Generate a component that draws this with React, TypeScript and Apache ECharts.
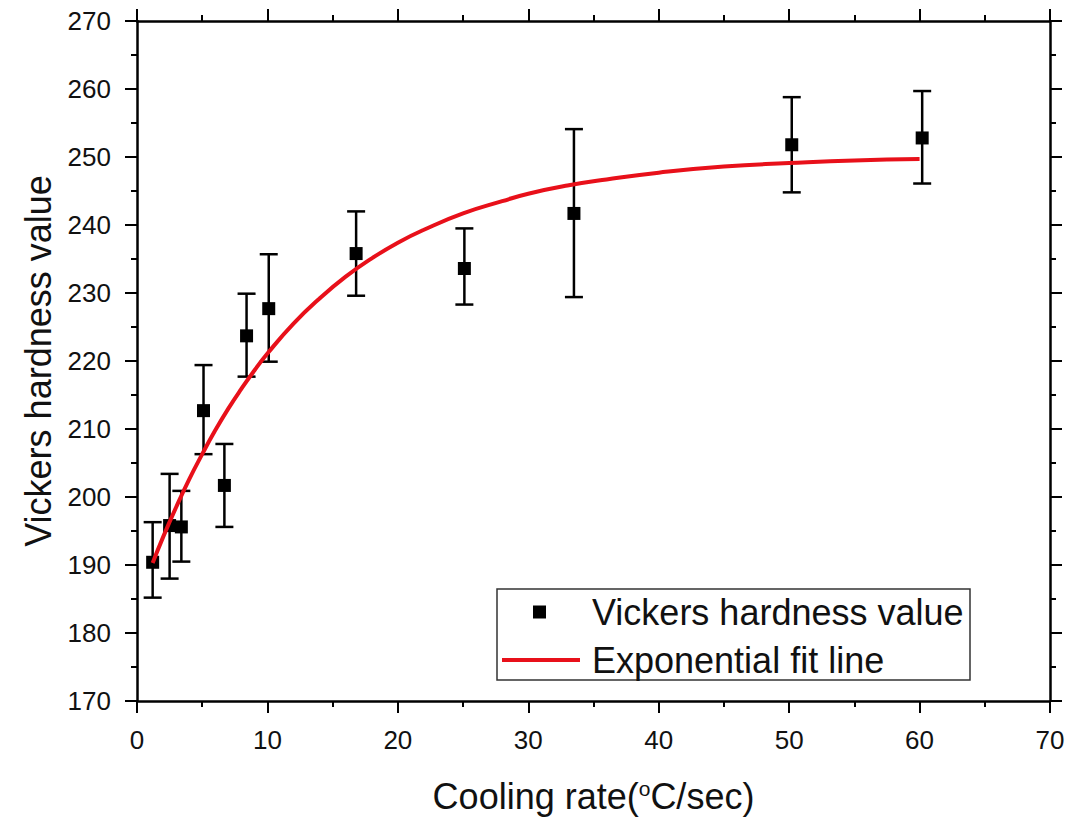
import React, { useEffect, useRef } from "react";
import * as echarts from "echarts";

// Measured data (cooling rate °C/sec, Vickers hardness)
const coolingRate = [1.2, 2.5, 3.4, 5.1, 6.7, 8.4, 10.1, 16.8, 25.1, 33.5, 50.2, 60.2];
const hardness = [190.4, 195.8, 195.6, 212.7, 201.7, 223.7, 227.7, 235.8, 233.6, 241.7, 251.8, 252.8];
const errUpper = [196.3, 203.4, 200.9, 219.4, 207.8, 229.9, 235.7, 242.0, 239.5, 254.1, 258.8, 259.7];
const errLower = [185.2, 188.0, 190.5, 206.3, 195.6, 217.7, 219.9, 229.6, 228.3, 229.4, 244.8, 246.1];

// Exponential fit line
const fitX = [1.2, 2, 3, 4, 5, 6, 7, 8, 9, 10, 12, 14, 16, 18, 20, 22, 25, 28, 30, 33, 36, 40, 45, 50, 55, 60];
const fitY = [190.3, 194.1, 198.5, 202.6, 206.3, 209.8, 213.0, 215.9, 218.6, 221.1, 225.5, 229.2, 232.4, 235.1, 237.4, 239.3, 241.7, 243.5, 244.6, 245.8, 246.7, 247.7, 248.6, 249.1, 249.5, 249.7];

const FONT = "'Liberation Sans', Arial, sans-serif";
const RED = "#e8101a";

export default function App() {
  const ref = useRef<HTMLDivElement>(null);
  useEffect(() => {
    if (!ref.current) return;
    const chart = echarts.init(ref.current, null, { renderer: "svg" });

    const axisCommon = {
      axisLine: { show: true, onZero: false, lineStyle: { color: "#000", width: 2.5 } },
      axisTick: { show: true, inside: false, length: 12, lineStyle: { color: "#000", width: 2 } },
      minorTick: { show: true, splitNumber: 2, length: 6, lineStyle: { color: "#000", width: 2 } },
      splitLine: { show: false },
      minorSplitLine: { show: false },
    };
    const labelStyle = { color: "#111", fontSize: 26, fontFamily: FONT, margin: 26 };

    const scatterData = coolingRate.map((x, i) => [x, hardness[i]]);
    const errData = coolingRate.map((x, i) => [x, errLower[i], errUpper[i]]);
    const fitData = fitX.map((x, i) => [x, fitY[i]]);

    chart.setOption({
      animation: false,
      backgroundColor: "#fff",
      grid: { left: 137, right: 23, top: 21, bottom: 116, containLabel: false },
      xAxis: [
        {
          ...axisCommon,
          type: "value",
          position: "bottom",
          min: 0,
          max: 70,
          interval: 10,
          axisLabel: { ...labelStyle },
          name: "Cooling rate({sup|o}C/sec)",
          nameLocation: "middle",
          nameGap: 77,
          nameTextStyle: {
            color: "#111",
            fontSize: 36,
            fontFamily: FONT,
            rich: {
              sup: { fontSize: 21, fontFamily: FONT, color: "#111", verticalAlign: "top", padding: [0, 0, 14, 0] },
            },
          },
        },
        {
          ...axisCommon,
          type: "value",
          position: "top",
          min: 0,
          max: 70,
          interval: 10,
          axisLabel: { show: false },
        },
      ],
      yAxis: [
        {
          ...axisCommon,
          type: "value",
          position: "left",
          min: 170,
          max: 270,
          interval: 10,
          axisLabel: { ...labelStyle },
          name: "Vickers hardness value",
          nameLocation: "middle",
          nameGap: 80,
          nameTextStyle: { color: "#111", fontSize: 36, fontFamily: FONT },
        },
        {
          ...axisCommon,
          type: "value",
          position: "right",
          min: 170,
          max: 270,
          interval: 10,
          axisLabel: { show: false },
        },
      ],
      legend: [
        {
          data: ["Vickers hardness value"],
          left: 533,
          top: 592,
          padding: 0,
          itemWidth: 13,
          itemHeight: 13,
          icon: "rect",
          itemStyle: { color: "#000", opacity: 1 },
          textStyle: { fontSize: 36, fontFamily: FONT, color: "#111", lineHeight: 40, padding: [0, 0, 0, 41] },
        },
        {
          data: ["Exponential fit line"],
          left: 502,
          top: 640,
          padding: 0,
          itemWidth: 78,
          itemHeight: 4,
          icon: "rect",
          itemStyle: { color: RED },
          textStyle: { fontSize: 36, fontFamily: FONT, color: "#111", lineHeight: 40, padding: [0, 0, 0, 7] },
        },
      ],
      graphic: [
        {
          type: "rect",
          shape: { x: 497, y: 589, width: 473, height: 91 },
          style: { fill: "none", stroke: "#333", lineWidth: 1.5 },
          z: 1,
        },
      ],
      series: [
        {
          name: "error",
          type: "custom",
          xAxisIndex: 0,
          yAxisIndex: 0,
          z: 2,
          data: errData,
          encode: { x: 0, y: [1, 2] },
          renderItem: (params: any, api: any) => {
            const x = api.value(0);
            const lo = api.value(1);
            const hi = api.value(2);
            const pHi = api.coord([x, hi]);
            const pLo = api.coord([x, lo]);
            const hw = 9;
            const st = { stroke: "#000", lineWidth: 2.5, fill: "none" };
            return {
              type: "group",
              children: [
                { type: "line", shape: { x1: pHi[0], y1: pHi[1], x2: pLo[0], y2: pLo[1] }, style: st },
                { type: "line", shape: { x1: pHi[0] - hw, y1: pHi[1], x2: pHi[0] + hw, y2: pHi[1] }, style: st },
                { type: "line", shape: { x1: pLo[0] - hw, y1: pLo[1], x2: pLo[0] + hw, y2: pLo[1] }, style: st },
              ],
            };
          },
        },
        {
          name: "Vickers hardness value",
          type: "scatter",
          xAxisIndex: 0,
          yAxisIndex: 0,
          z: 3,
          symbol: "rect",
          symbolSize: 13,
          itemStyle: { color: "#000", opacity: 1 },
          data: scatterData,
        },
        {
          name: "Exponential fit line",
          type: "line",
          xAxisIndex: 0,
          yAxisIndex: 0,
          z: 4,
          smooth: true,
          symbol: "none",
          showSymbol: false,
          lineStyle: { color: RED, width: 4 },
          itemStyle: { color: RED },
          data: fitData,
        },
      ],
    });
    return () => chart.dispose();
  }, []);
  return (
    <div
      ref={ref}
      style={{ position: "fixed", left: 0, top: 0, width: 1073, height: 819, background: "#fff" }}
    />
  );
}
